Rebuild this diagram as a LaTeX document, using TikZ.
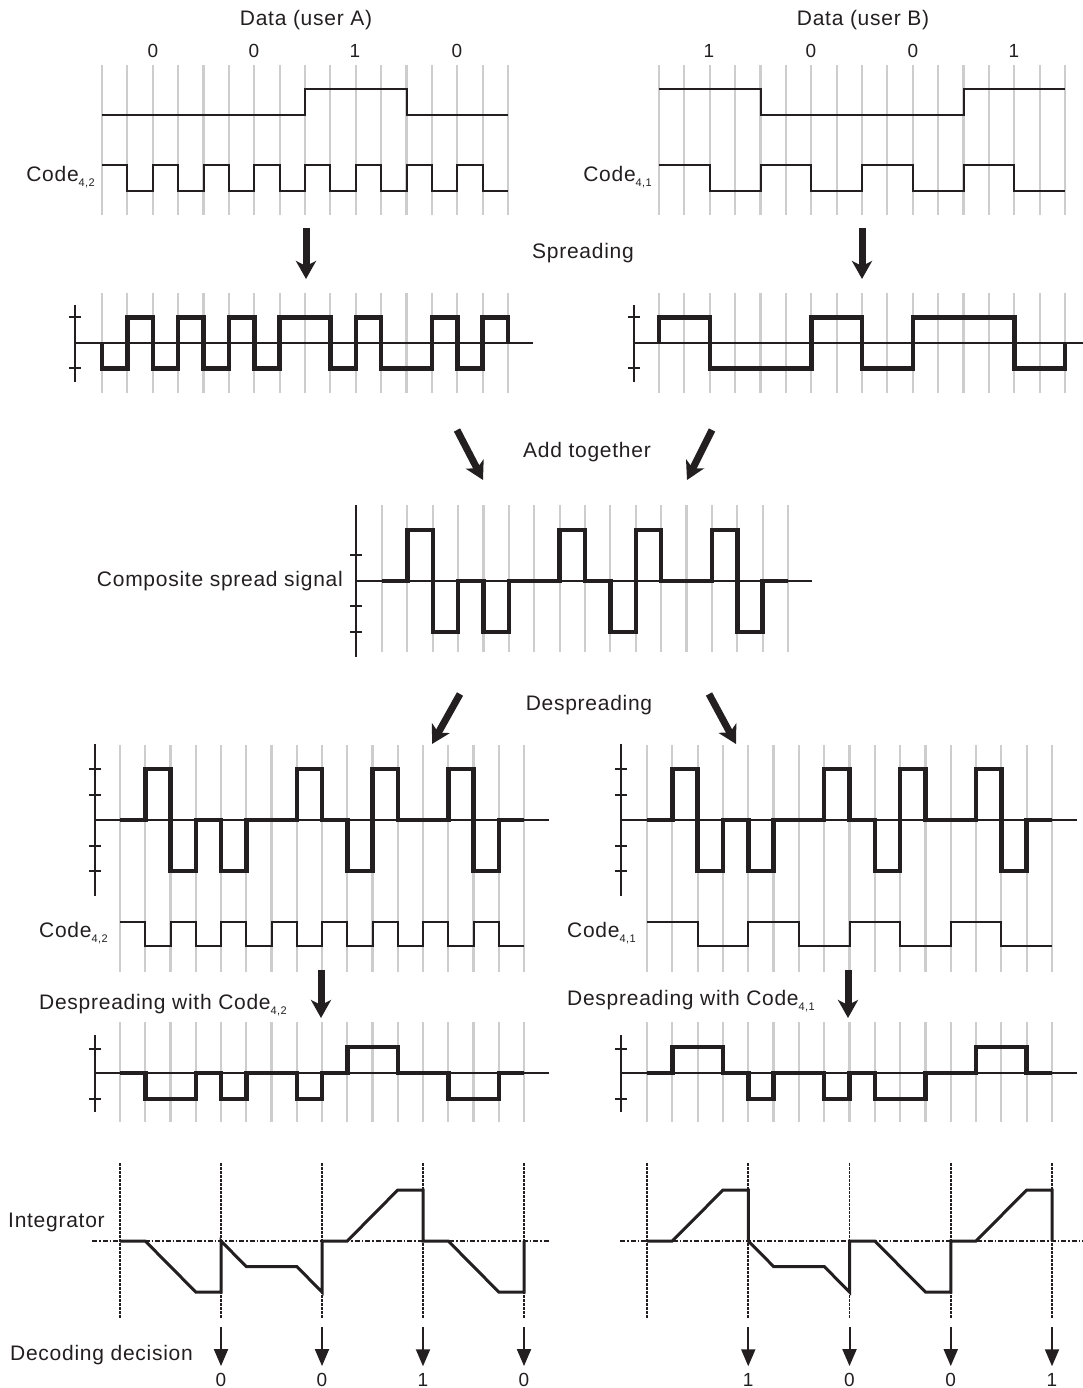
\documentclass[tikz,border=0pt]{standalone}
\usepackage{fontspec}
\setmainfont{Liberation Sans}[LetterSpace=3.5]
\usetikzlibrary{arrows.meta}
\definecolor{gridgray}{HTML}{CDCDCD}
\definecolor{ink}{HTML}{231F20}
\newcommand\levwave[7]{% style, x0, w, y0, u, first level, levels
  \draw[#1] ({#2},{#4-(#6)*#5}) \foreach \lv [count=\ci from 0] in {#7} { -- ({#2+\ci*#3},{#4-(\lv)*#5}) -- ({#2+(\ci+1)*#3},{#4-(\lv)*#5}) };}
\newcommand\sigwave[6]{% style, x0, w, y0, u, levels
  \draw[#1] ({#2},{#4}) \foreach \lv [count=\ci from 0] in {#6} { -- ({#2+\ci*#3},{#4-(\lv)*#5}) -- ({#2+(\ci+1)*#3},{#4-(\lv)*#5}) } -- ({#2+16*#3},{#4});}
\newcommand\chipgrid[4]{% x0, w, ytop, ybot
  \foreach \k in {0,...,16} {\draw[gridline] ({#1+\k*#2},#3) -- ({#1+\k*#2},#4);}}
\newcommand\sub[1]{\raisebox{-0.45ex}{\fontsize{11}{11}\selectfont #1}}
\begin{document}
\begin{tikzpicture}[x=1pt,y=-1pt,
  gridline/.style={draw=gridgray, line width=2.2pt},
  thinwave/.style={draw=ink, line width=2pt, line join=miter},
  thickwave/.style={draw=ink, line width=4.5pt, line join=miter},
  intwave/.style={draw=ink, line width=3pt, line join=miter},
  axisline/.style={draw=ink, line width=2pt},
  tick/.style={draw=ink, line width=2pt},
  dotv/.style={draw=ink, line width=1.8pt, dash pattern=on 2.5pt off 1.5pt},
  doth/.style={draw=ink, line width=1.8pt, dash pattern=on 5pt off 2pt on 1.5pt off 2pt},
  lbl/.style={font=\fontsize{21}{25}\selectfont, inner sep=0pt, text=ink},
  dig/.style={font=\fontsize{19}{22}\selectfont, inner sep=0pt, text=ink},
  bigarrow/.style={draw=ink, line width=7pt, -{Stealth[length=18pt,width=20pt,inset=5pt]}},
  decarrow/.style={draw=ink, line width=2pt, -{Triangle[length=17pt,width=14pt]}, shorten >=7pt}
]
\useasboundingbox (0,0) rectangle (1083,1388);

% ---------------- Row 1: data and codes ----------------
\chipgrid{102}{25.375}{65}{215}
\chipgrid{659}{25.375}{65}{215}
\node[lbl] (titleA) at (306,20) {Data (user A)};
\node[lbl] (titleB) at (863,20) {Data (user B)};
\node[dig] (a0) at (153,51) {0};
\node[dig] (a1) at (254,51) {0};
\node[dig] (a2) at (355,51) {1};
\node[dig] (a3) at (457,51) {0};
\node[dig] (b0) at (709,51) {1};
\node[dig] (b1) at (811,51) {0};
\node[dig] (b2) at (913,51) {0};
\node[dig] (b3) at (1014,51) {1};
\levwave{thinwave}{102}{25.375}{115.5}{26}{0}{0,0,0,0,0,0,0,0,1,1,1,1,0,0,0,0}
\levwave{thinwave}{102}{25.375}{191}{25.5}{1}{1,0,1,0,1,0,1,0,1,0,1,0,1,0,1,0}
\levwave{thinwave}{659}{25.375}{115.5}{26}{1}{1,1,1,1,0,0,0,0,0,0,0,0,1,1,1,1}
\levwave{thinwave}{659}{25.375}{191}{25.5}{1}{1,1,0,0,1,1,0,0,1,1,0,0,1,1,0,0}
\node[lbl, anchor=east] (codeA) at (95,177) {Code\sub{4,2}};
\node[lbl, anchor=east] (codeB) at (652,177) {Code\sub{4,1}};

% ---------------- Spreading ----------------
\coordinate (spA1) at (306,228);
\coordinate (spA2) at (306,279);
\coordinate (spB1) at (862,228);
\coordinate (spB2) at (862,279);
\draw[bigarrow] (spA1) -- (spA2);
\draw[bigarrow] (spB1) -- (spB2);
\node[lbl] (spreading) at (583,253) {Spreading};

% ---------------- Row 2: spread signals ----------------
\chipgrid{102}{25.375}{293}{393}
\chipgrid{659}{25.375}{293}{393}
\draw[axisline] (75,305) -- (75,382);
\draw[tick] (69,317) -- (81,317);
\draw[tick] (69,368) -- (81,368);
\draw[axisline] (75,343) -- (533,343);
\draw[axisline] (634,305) -- (634,382);
\draw[tick] (628,317) -- (640,317);
\draw[tick] (628,368) -- (640,368);
\draw[axisline] (634,343) -- (1083,343);
\sigwave{thickwave}{102}{25.375}{343}{25.5}{-1,1,-1,1,-1,1,-1,1,1,-1,1,-1,-1,1,-1,1}
\sigwave{thickwave}{659}{25.375}{343}{25.5}{1,1,-1,-1,-1,-1,1,1,-1,-1,1,1,1,1,-1,-1}

% ---------------- Add together ----------------
\coordinate (adA1) at (457,430);
\coordinate (adA2) at (483,480);
\coordinate (adB1) at (712,430);
\coordinate (adB2) at (687,480);
\draw[bigarrow] (adA1) -- (adA2);
\draw[bigarrow] (adB1) -- (adB2);
\node[lbl] (addtog) at (587,452) {Add together};

% ---------------- Row 3: composite ----------------
\chipgrid{382}{25.375}{505}{652}
\draw[axisline] (356,505) -- (356,657);
\draw[tick] (350,555) -- (362,555);
\draw[tick] (350,606) -- (362,606);
\draw[tick] (350,632) -- (362,632);
\draw[axisline] (356,581) -- (812,581);
\sigwave{thickwave}{382}{25.375}{581}{25.5}{0,2,-2,0,-2,0,0,2,0,-2,2,0,0,2,-2,0}
\node[lbl, anchor=east] (composite) at (343,581) {Composite spread signal};

% ---------------- Despreading ----------------
\coordinate (dsA1) at (460,694);
\coordinate (dsA2) at (432,744);
\coordinate (dsB1) at (709,694);
\coordinate (dsB2) at (736,744);
\draw[bigarrow] (dsA1) -- (dsA2);
\draw[bigarrow] (dsB1) -- (dsB2);
\node[lbl] (despreading) at (589,705) {Despreading};

% ---------------- Row 4: received + codes ----------------
\chipgrid{120}{25.25}{745}{972}
\chipgrid{647}{25.3125}{745}{972}
\draw[axisline] (95,744) -- (95,896);
\foreach \ty in {769,795,846,871} {\draw[tick] (89,\ty) -- (101,\ty);}
\draw[axisline] (95,820) -- (549,820);
\draw[axisline] (621,744) -- (621,896);
\foreach \ty in {769,795,846,871} {\draw[tick] (615,\ty) -- (627,\ty);}
\draw[axisline] (621,820) -- (1077,820);
\sigwave{thickwave}{120}{25.25}{820}{25.5}{0,2,-2,0,-2,0,0,2,0,-2,2,0,0,2,-2,0}
\sigwave{thickwave}{647}{25.3125}{820}{25.5}{0,2,-2,0,-2,0,0,2,0,-2,2,0,0,2,-2,0}
\levwave{thinwave}{120}{25.25}{946}{24.5}{1}{1,0,1,0,1,0,1,0,1,0,1,0,1,0,1,0}
\levwave{thinwave}{647}{25.3125}{946}{24.5}{1}{1,1,0,0,1,1,0,0,1,1,0,0,1,1,0,0}
\node[lbl, anchor=west] (codeA2) at (39,933) {Code\sub{4,2}};
\node[lbl, anchor=west] (codeB2) at (567,933) {Code\sub{4,1}};

% ---------------- Despreading with code ----------------
\coordinate (dwA1) at (321,970);
\coordinate (dwA2) at (321,1018);
\coordinate (dwB1) at (848,970);
\coordinate (dwB2) at (848,1018);
\draw[bigarrow] (dwA1) -- (dwA2);
\draw[bigarrow] (dwB1) -- (dwB2);
\node[lbl, anchor=west] (dwcA) at (39,1005) {Despreading with Code\sub{4,2}};
\node[lbl, anchor=west] (dwcB) at (567,1001) {Despreading with Code\sub{4,1}};

% ---------------- Row 5: despread outputs ----------------
\chipgrid{120}{25.25}{1022}{1122}
\chipgrid{647}{25.3125}{1022}{1122}
\draw[axisline] (95,1035) -- (95,1112);
\draw[tick] (89,1049) -- (101,1049);
\draw[tick] (89,1099) -- (101,1099);
\draw[axisline] (95,1073) -- (549,1073);
\draw[axisline] (621,1035) -- (621,1112);
\draw[tick] (615,1049) -- (627,1049);
\draw[tick] (615,1099) -- (627,1099);
\draw[axisline] (621,1073) -- (1077,1073);
\sigwave{thickwave}{120}{25.25}{1073}{26}{0,-1,-1,0,-1,0,0,-1,0,1,1,0,0,-1,-1,0}
\sigwave{thickwave}{647}{25.3125}{1073}{26}{0,1,1,0,-1,0,0,-1,0,-1,-1,0,0,1,1,0}

% ---------------- Row 6: integrators ----------------
\node[lbl, anchor=west] (integrator) at (8,1222) {Integrator};
\foreach \xx in {120,221,322,423,524} {\draw[dotv] (\xx,1163) -- (\xx,1318);}
\foreach \xx in {647,748.25,849.5,950.75,1052} {\draw[dotv] (\xx,1163) -- (\xx,1318);}
\draw[doth] (92,1241) -- (549,1241);
\draw[doth] (620,1241) -- (1083,1241);
\draw[intwave] (120,1241) -- (145.25,1241) -- (195.75,1292) -- (221,1292) -- (221,1241) -- (246.25,1266.5) -- (296.75,1266.5) -- (322,1292) -- (322,1241) -- (347.25,1241) -- (397.75,1190) -- (423,1190) -- (423,1241) -- (448.25,1241) -- (498.75,1292) -- (524,1292) -- (524,1241);
\draw[intwave] (647,1241) -- (672.3,1241) -- (723,1190) -- (748.25,1190) -- (748.25,1241) -- (773.6,1266.5) -- (824.2,1266.5) -- (849.5,1292) -- (849.5,1241) -- (874.8,1241) -- (925.4,1292) -- (950.75,1292) -- (950.75,1241) -- (976,1241) -- (1026.7,1190) -- (1052,1190) -- (1052,1241);

% ---------------- Decoding decisions ----------------
\node[lbl, anchor=west] (decoding) at (10,1355) {Decoding decision};
\foreach \xx/\dd [count=\n] in {221/0,322/0,423/1,524/0} {
  \coordinate (dA\n t) at (\xx,1327);
  \node[dig] (dA\n) at (\xx,1380) {\dd};
  \draw[decarrow] (dA\n t) -- (dA\n.north);
}
\foreach \xx/\dd [count=\n] in {748.25/1,849.5/0,950.75/0,1052/1} {
  \coordinate (dB\n t) at (\xx,1327);
  \node[dig] (dB\n) at (\xx,1380) {\dd};
  \draw[decarrow] (dB\n t) -- (dB\n.north);
}
\end{tikzpicture}
\end{document}
